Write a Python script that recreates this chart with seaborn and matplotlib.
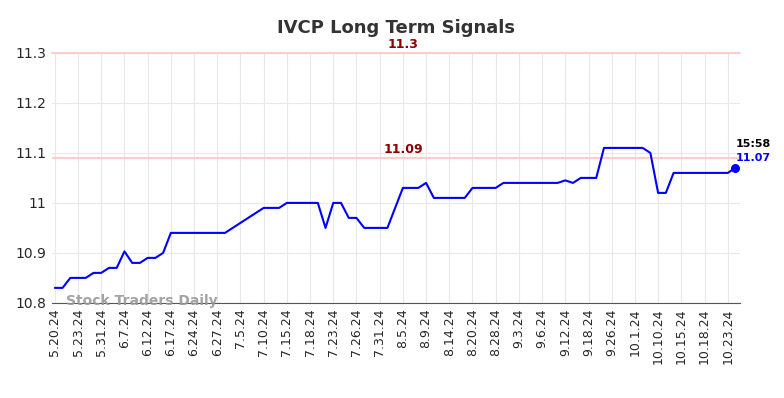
import matplotlib
matplotlib.use('Agg')
import matplotlib.pyplot as plt
import pandas as pd
import seaborn as sns

tick_labels = ['5.20.24', '5.23.24', '5.31.24', '6.7.24', '6.12.24', '6.17.24', '6.24.24', '6.27.24',
               '7.5.24', '7.10.24', '7.15.24', '7.18.24', '7.23.24', '7.26.24', '7.31.24', '8.5.24',
               '8.9.24', '8.14.24', '8.20.24', '8.28.24', '9.3.24', '9.6.24', '9.12.24', '9.18.24',
               '9.26.24', '10.1.24', '10.10.24', '10.15.24', '10.18.24', '10.23.24']

prices = [10.83, 10.83, 10.85, 10.85, 10.85, 10.86, 10.86, 10.87, 10.87, 10.903,
          10.88, 10.88, 10.89, 10.89, 10.90, 10.94, 10.94, 10.94, 10.94, 10.94,
          10.94, 10.94, 10.94, 10.95, 10.96, 10.97, 10.98, 10.99, 10.99, 10.99,
          11.00, 11.00, 11.00, 11.00, 11.00, 10.95, 11.00, 11.00, 10.97, 10.97,
          10.95, 10.95, 10.95, 10.95, 10.99, 11.03, 11.03, 11.03, 11.04, 11.01,
          11.01, 11.01, 11.01, 11.01, 11.03, 11.03, 11.03, 11.03, 11.04, 11.04,
          11.04, 11.04, 11.04, 11.04, 11.04, 11.04, 11.045, 11.04, 11.05, 11.05,
          11.05, 11.11, 11.11, 11.11, 11.11, 11.11, 11.11, 11.10, 11.02, 11.02,
          11.06, 11.06, 11.06, 11.06, 11.06, 11.06, 11.06, 11.06, 11.07]

resistance = 11.3
support = 11.09
last_time = '15:58'

df = pd.DataFrame({'idx': range(len(prices)), 'price': prices})

sns.set_style('whitegrid', {'grid.color': '#e8e8e8'})
fig, ax = plt.subplots(figsize=(7.84, 3.98), dpi=100)
fig.subplots_adjust(left=0.066, right=0.944, top=0.867, bottom=0.239)

ax.axhline(resistance, color='#ffcccc', lw=1.5, zorder=1, clip_on=False)
ax.axhline(support, color='#ffcccc', lw=1.5, zorder=1)
sns.lineplot(data=df, x='idx', y='price', color='blue', lw=1.5, ax=ax, zorder=3)

last = df.iloc[-1]
ax.scatter([last['idx']], [last['price']], color='blue', s=30, zorder=4)
ax.text(last['idx'], last['price'] + 0.047, last_time, color='black', fontsize=8,
        fontweight='bold', ha='left', va='center')
ax.text(last['idx'], last['price'] + 0.02, f"{last['price']:.2f}", color='blue', fontsize=8,
        fontweight='bold', ha='left', va='center')

mid = 45
ax.text(mid, resistance + 0.003, '11.3', color='darkred', fontsize=9, fontweight='bold',
        ha='center', va='bottom')
ax.text(mid, support + 0.003, '11.09', color='darkred', fontsize=9, fontweight='bold',
        ha='center', va='bottom')

ax.text(1.5, 10.803, 'Stock Traders Daily', color='#999999', fontsize=10, fontweight='bold',
        ha='left', va='center', alpha=0.9)

ax.set_xlim(-0.4, 88.6)
ax.set_ylim(10.8, 11.3)
ax.set_xticks(range(0, 3 * len(tick_labels), 3))
ax.set_xticklabels(tick_labels, rotation=90, fontsize=9)
ax.set_yticks([10.8, 10.9, 11.0, 11.1, 11.2, 11.3])
ax.set_yticklabels(['10.8', '10.9', '11', '11.1', '11.2', '11.3'], fontsize=10)
ax.set_xlabel('')
ax.set_ylabel('')
for s in ['top', 'right', 'left']:
    ax.spines[s].set_visible(False)
ax.spines['bottom'].set_color('#555555')
ax.tick_params(axis='both', length=0, pad=4)
ax.set_title('IVCP Long Term Signals', fontsize=13, fontweight='bold', color='#333333', pad=14)

fig.savefig('out.png', dpi=100)
